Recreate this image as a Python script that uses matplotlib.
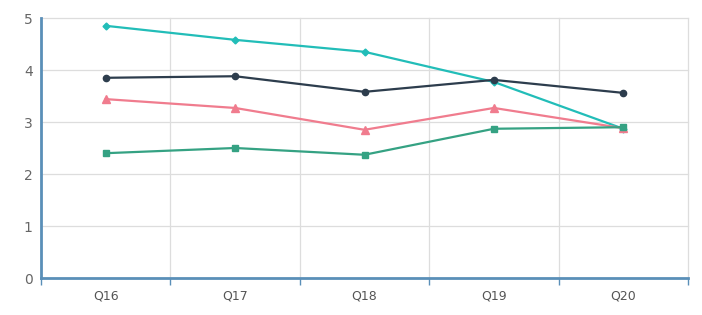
import matplotlib
matplotlib.use("Agg")
import matplotlib.pyplot as plt
import numpy as np

categories = ["Q16", "Q17", "Q18", "Q19", "Q20"]
series_cyan = [4.85, 4.58, 4.35, 3.77, 2.87]
series_dark = [3.85, 3.88, 3.58, 3.81, 3.56]
series_pink = [3.44, 3.27, 2.85, 3.27, 2.88]
series_green = [2.40, 2.50, 2.37, 2.87, 2.90]
y_ticks = [0, 1, 2, 3, 4, 5]

fig = plt.figure(figsize=(7.02, 3.15), dpi=100)
ax = fig.add_axes([41/702, 37/315, 647/702, 260/315])

x = np.arange(len(categories))
styles = [
    (series_cyan, "#22bdb8", "D", 3.5),
    (series_dark, "#2d3d4d", "o", 4.5),
    (series_pink, "#f07c8e", "^", 5.5),
    (series_green, "#35a283", "s", 4.5),
]
for vals, col, mk, ms in styles:
    ax.plot(x, vals, color=col, marker=mk, markersize=ms, linewidth=1.6, zorder=3)

ax.set_xlim(-0.5, len(categories) - 0.5)
ax.set_ylim(0, 5)
ax.set_yticks(y_ticks)
ax.set_xticks(x)
ax.set_xticklabels(categories)
ax.set_xticks(np.arange(-0.5, len(categories)), minor=True)

ax.grid(False)
for yv in y_ticks[1:]:
    ax.axhline(yv, color="#dddddd", linewidth=0.9, zorder=1, clip_on=False)
for xv in np.arange(0.5, len(categories) - 0.5 + 1e-9, 1.0):
    ax.axvline(xv, color="#dddddd", linewidth=0.9, zorder=1, clip_on=False)

for s in ["top", "right"]:
    ax.spines[s].set_visible(False)
for s in ["left", "bottom"]:
    ax.spines[s].set_color("#5a8fb8")
    ax.spines[s].set_linewidth(2)

ax.tick_params(axis="x", which="major", length=0, labelsize=9, labelcolor="#555555", pad=8)
ax.tick_params(axis="x", which="minor", length=5, color="#5a8fb8", width=1)
ax.tick_params(axis="y", length=0, labelsize=10, labelcolor="#666666", pad=6)

fig.savefig("out.png", dpi=100)
